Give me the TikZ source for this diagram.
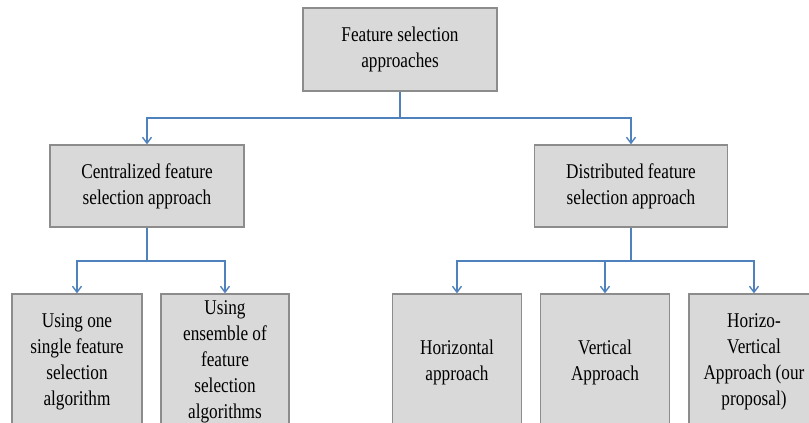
\documentclass[tikz,border=0pt]{standalone}
\usepackage{fontspec}
\setmainfont[FakeStretch=0.82]{Liberation Serif}
\usetikzlibrary{arrows.meta}

\definecolor{boxfill}{HTML}{D9D9D9}
\definecolor{boxline}{HTML}{8C8C8C}
\definecolor{linkblue}{HTML}{4F81BD}

\tikzset{
  approachbox/.style={draw=boxline, fill=boxfill, line width=1.3pt, inner sep=0pt,
    align=center, font=\fontsize{21}{26}\selectfont},
  link/.style={draw=linkblue, line width=1.4pt},
  linkarrow/.style={link, -{Straight Barb[length=6pt,width=9pt]}}
}

\begin{document}
\begin{tikzpicture}[x=1pt,y=-1pt]
    \useasboundingbox (0,0) rectangle (809,423);
    \clip (0,0) rectangle (809,423);

    % Nivel 1
    \node[approachbox, minimum width=194pt, minimum height=83pt] (fsa) at (400,49.5) {Feature selection\\approaches};

    % Nivel 2
    \node[approachbox, minimum width=194pt, minimum height=82pt] (cent) at (147,186) {Centralized feature\\selection approach};
    \node[approachbox, minimum width=193pt, minimum height=82pt] (dist) at (631,186) {Distributed feature\\selection approach};

    % Nivel 3
    \node[approachbox, minimum width=130pt, minimum height=136pt] (single) at (77,362) {Using one\\single feature\\selection\\algorithm};
    \node[approachbox, minimum width=128pt, minimum height=136pt] (ensemble) at (225,362) {Using\\ensemble of\\feature\\selection\\algorithms};
    \node[approachbox, minimum width=129pt, minimum height=136pt] (horiz) at (457,362) {Horizontal\\approach};
    \node[approachbox, minimum width=129pt, minimum height=136pt] (vert) at (605,362) {Vertical\\Approach};
    \node[approachbox, minimum width=130pt, minimum height=136pt] (hv) at (754,362) {Horizo-\\Vertical\\Approach (our\\proposal)};

    % Puntos de bifurcacion
    \coordinate (forktop) at (fsa.south |- 0,118);
    \coordinate (forkcent) at (cent.south |- 0,261);
    \coordinate (forkdist) at (dist.south |- 0,261);

    % Conectores
    \draw[link] (fsa.south) -- (forktop);
    \draw[linkarrow] (forktop) -| (cent.north);
    \draw[linkarrow] (forktop) -| (dist.north);

    \draw[link] (cent.south) -- (forkcent);
    \draw[linkarrow] (forkcent) -| (single.north);
    \draw[linkarrow] (forkcent) -| (ensemble.north);

    \draw[link] (dist.south) -- (forkdist);
    \draw[linkarrow] (forkdist) -| (horiz.north);
    \draw[linkarrow] (forkdist) -| (vert.north);
    \draw[linkarrow] (forkdist) -| (hv.north);
\end{tikzpicture}
\end{document}
